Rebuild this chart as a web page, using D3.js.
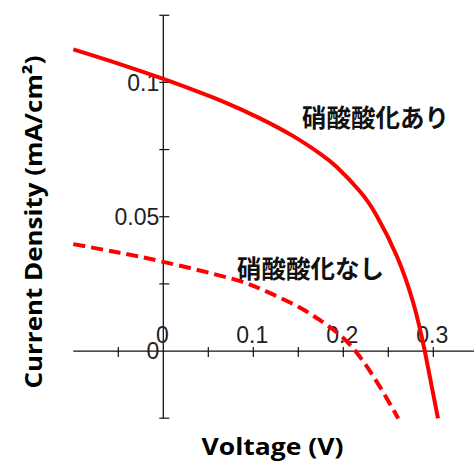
<!DOCTYPE html>
<html>
<head>
<meta charset="utf-8">
<script src="https://cdn.jsdelivr.net/npm/d3@7"></script>
<style>
  html, body { margin: 0; padding: 0; background: #fff; }
  svg { display: block; }
</style>
</head>
<body>
<div id="chart"></div>
<script>
// ---- data ----
const withOxV = [-0.1, -0.05, 0, 0.0333, 0.0704, 0.1074, 0.1448, 0.1741, 0.1927, 0.2186, 0.2371, 0.2593, 0.2778, 0.2908, 0.3052];
const withOxJ = [0.1123, 0.107, 0.1013, 0.0972, 0.0923, 0.0866, 0.0799, 0.0735, 0.0685, 0.0594, 0.0504, 0.0355, 0.0179, -0.0004, -0.0251];
const noOxV = [-0.1, -0.05, 0, 0.0741, 0.1111, 0.1482, 0.1741, 0.1963, 0.2149, 0.2296, 0.2444, 0.2611];
const noOxJ = [0.0398, 0.0367, 0.0332, 0.0271, 0.0227, 0.0168, 0.0115, 0.006, -0.0006, -0.0075, -0.0154, -0.0251];
const xTickLabels = [0, 0.1, 0.2, 0.3];
const xMinorTicks = [-0.05, 0.05, 0.15, 0.25];
const yTickLabels = [0, 0.05, 0.1];
const yMinorTicks = [-0.025, 0.025, 0.075, 0.125];
const labelWith = "硝酸酸化あり";
const labelWithout = "硝酸酸化なし";
const xTitle = "Voltage (V)";
const yTitle = "Current Density (mA/cm²)";

// ---- layout ----
const W = 474, H = 465;
const svg = d3.select("#chart").append("svg").attr("width", W).attr("height", H);

const x = d3.scaleLinear().domain([-0.1, 0.35]).range([73.3, 478.3]);
const y = d3.scaleLinear().domain([-0.025, 0.125]).range([418.2, 15.25]);

const axisColor = "#111";
const textColor = "#222";

// x axis line
svg.append("line")
  .attr("x1", x(-0.1)).attr("x2", W)
  .attr("y1", y(0)).attr("y2", y(0))
  .attr("stroke", axisColor).attr("stroke-width", 1.3);

// y axis line
svg.append("line")
  .attr("x1", x(0)).attr("x2", x(0))
  .attr("y1", y(0.125)).attr("y2", y(-0.025))
  .attr("stroke", axisColor).attr("stroke-width", 1.3);

// x ticks
const allXTicks = xTickLabels.concat(xMinorTicks).filter(v => v !== 0);
svg.selectAll(".xt").data(allXTicks).enter().append("line")
  .attr("x1", d => x(d)).attr("x2", d => x(d))
  .attr("y1", y(0) - 4).attr("y2", y(0) + 6)
  .attr("stroke", axisColor).attr("stroke-width", 1.2);

// y ticks
const allYTicks = yTickLabels.concat(yMinorTicks).filter(v => v !== 0);
svg.selectAll(".yt").data(allYTicks).enter().append("line")
  .attr("x1", x(0) - 4).attr("x2", x(0) + 6)
  .attr("y1", d => y(d)).attr("y2", d => y(d))
  .attr("stroke", axisColor).attr("stroke-width", 1.2);

// x tick labels (above axis)
svg.selectAll(".xl").data(xTickLabels).enter().append("text")
  .attr("x", d => x(d) - 1)
  .attr("y", y(0) - 8)
  .attr("text-anchor", "middle")
  .attr("font-family", "Liberation Sans, Arial, sans-serif")
  .attr("font-size", 23)
  .attr("fill", textColor)
  .text(d => d3.format("")(d));

// y tick labels (left of axis)
svg.selectAll(".yl").data(yTickLabels).enter().append("text")
  .attr("x", x(0) - 4)
  .attr("y", d => y(d))
  .attr("dy", "0.36em")
  .attr("text-anchor", "end")
  .attr("font-family", "Liberation Sans, Arial, sans-serif")
  .attr("font-size", 23)
  .attr("fill", textColor)
  .text(d => d3.format("")(d));

// curves
const line = d3.line().x(d => x(d[0])).y(d => y(d[1])).curve(d3.curveNatural);
const withData = withOxV.map((v, i) => [v, withOxJ[i]]);
const noData = noOxV.map((v, i) => [v, noOxJ[i]]);

svg.append("path").datum(withData)
  .attr("d", line)
  .attr("fill", "none").attr("stroke", "#ff0000").attr("stroke-width", 4);

svg.append("path").datum(noData)
  .attr("d", line)
  .attr("fill", "none").attr("stroke", "#ff0000").attr("stroke-width", 4)
  .attr("stroke-dasharray", "12,6");

// annotations
svg.append("text")
  .attr("x", 302).attr("y", 116.5)
  .attr("dominant-baseline", "central")
  .attr("font-family", "Noto Sans CJK JP, sans-serif")
  .attr("font-weight", "bold")
  .attr("font-size", 24.5)
  .attr("fill", "#111")
  .text(labelWith);

svg.append("text")
  .attr("x", 237).attr("y", 267.5)
  .attr("dominant-baseline", "central")
  .attr("font-family", "Noto Sans CJK JP, sans-serif")
  .attr("font-weight", "bold")
  .attr("font-size", 24.5)
  .attr("fill", "#111")
  .text(labelWithout);

// axis titles
svg.append("text")
  .attr("x", 272.5).attr("y", 455)
  .attr("text-anchor", "middle")
  .attr("font-family", "Open Sans, sans-serif")
  .attr("font-weight", "bold")
  .attr("font-size", 23)
  .attr("textLength", 142)
  .attr("lengthAdjust", "spacingAndGlyphs")
  .attr("fill", "#000")
  .text(xTitle);

svg.append("text")
  .attr("transform", "translate(42,222) rotate(-90)")
  .attr("text-anchor", "middle")
  .attr("font-family", "Open Sans, sans-serif")
  .attr("font-weight", "bold")
  .attr("font-size", 23)
  .attr("textLength", 333)
  .attr("lengthAdjust", "spacingAndGlyphs")
  .attr("fill", "#000")
  .text(yTitle);
</script>
</body>
</html>
